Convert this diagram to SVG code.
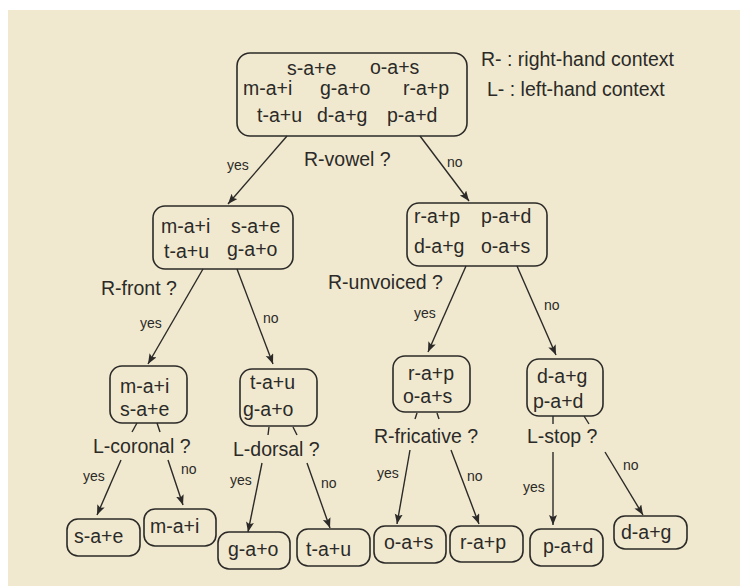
<svg xmlns="http://www.w3.org/2000/svg" width="740" height="586" viewBox="0 0 740 586">
<defs>
<style>
.bg{fill:#f0e9cf}
.box{fill:none;stroke:#2b2a28;stroke-width:1.6}
.t{font-family:"Liberation Sans",Arial,sans-serif;font-size:19.5px;fill:#2b2a28}
.s{font-family:"Liberation Sans",Arial,sans-serif;font-size:14px;fill:#2b2a28}
.c{stroke:#2b2a28;stroke-width:1.4;fill:none}
.a{marker-end:url(#arr)}
</style>
<marker id="arr" markerUnits="userSpaceOnUse" markerWidth="11" markerHeight="9" refX="10" refY="4" orient="auto">
<path d="M0,0 L10,4 L0,8 L2,4 z" fill="#2b2a28"/>
</marker>
</defs>
<rect class="bg" x="8" y="10" width="732" height="576"/>

<g id="legend">
<text class="t" x="481" y="66">R- : right-hand context</text>
<text class="t" x="487" y="96">L- : left-hand context</text>
</g>

<g id="connectors">
<line class="c a" x1="287" y1="136" x2="228" y2="204"/>
<line class="c a" x1="420" y1="136" x2="469" y2="201"/>
<line class="c a" x1="203" y1="269" x2="148" y2="364"/>
<line class="c a" x1="237" y1="269" x2="273" y2="364"/>
<line class="c a" x1="466" y1="266" x2="428" y2="352"/>
<line class="c a" x1="517" y1="266" x2="556" y2="355"/>
<line class="c" x1="137" y1="423" x2="132" y2="432"/>
<line class="c" x1="157" y1="423" x2="160" y2="432"/>
<line class="c a" x1="121" y1="460" x2="97" y2="515"/>
<line class="c a" x1="168" y1="460" x2="183" y2="505"/>
<line class="c" x1="269" y1="427" x2="268" y2="435"/>
<line class="c" x1="293" y1="427" x2="297" y2="435"/>
<line class="c a" x1="262" y1="463" x2="248" y2="532"/>
<line class="c a" x1="307" y1="463" x2="330" y2="528"/>
<line class="c" x1="417" y1="413" x2="415" y2="419"/>
<line class="c" x1="437" y1="413" x2="439" y2="419"/>
<line class="c a" x1="410" y1="450" x2="397" y2="524"/>
<line class="c a" x1="451" y1="450" x2="479" y2="524"/>
<line class="c" x1="553" y1="416" x2="553" y2="424"/>
<line class="c" x1="584" y1="416" x2="589" y2="424"/>
<line class="c a" x1="553" y1="452" x2="553" y2="525"/>
<line class="c a" x1="605" y1="452" x2="643" y2="515"/>
</g>

<g id="labels">
<text class="s" x="227" y="170">yes</text>
<text class="s" x="447" y="167">no</text>
<text class="t" x="304" y="166">R-vowel ?</text>
<text class="t" x="101" y="295">R-front ?</text>
<text class="s" x="140" y="328">yes</text>
<text class="s" x="263" y="323">no</text>
<text class="t" x="328" y="289">R-unvoiced ?</text>
<text class="s" x="414" y="318">yes</text>
<text class="s" x="544" y="310">no</text>
<text class="t" x="93" y="453">L-coronal ?</text>
<text class="s" x="83" y="481">yes</text>
<text class="s" x="181" y="474">no</text>
<text class="t" x="233" y="456">L-dorsal ?</text>
<text class="s" x="230" y="485">yes</text>
<text class="s" x="321" y="488">no</text>
<text class="t" x="374" y="443">R-fricative ?</text>
<text class="s" x="377" y="478">yes</text>
<text class="s" x="467" y="481">no</text>
<text class="t" x="527" y="443">L-stop ?</text>
<text class="s" x="523" y="492">yes</text>
<text class="s" x="623" y="470">no</text>
</g>

<g id="root">
<rect class="box" x="237" y="53" width="230" height="83" rx="13"/>
<text class="t" x="287" y="75">s-a+e</text>
<text class="t" x="370" y="74">o-a+s</text>
<text class="t" x="243" y="95">m-a+i</text>
<text class="t" x="320" y="95">g-a+o</text>
<text class="t" x="403" y="95">r-a+p</text>
<text class="t" x="257" y="122">t-a+u</text>
<text class="t" x="317" y="122">d-a+g</text>
<text class="t" x="387" y="122">p-a+d</text>
</g>

<g id="n-yes">
<rect class="box" x="153" y="206" width="140" height="63" rx="12"/>
<text class="t" x="161" y="233">m-a+i</text>
<text class="t" x="231" y="233">s-a+e</text>
<text class="t" x="164" y="258">t-a+u</text>
<text class="t" x="227" y="256">g-a+o</text>
</g>

<g id="n-no">
<rect class="box" x="407" y="203" width="140" height="63" rx="12"/>
<text class="t" x="414" y="223">r-a+p</text>
<text class="t" x="481" y="223">p-a+d</text>
<text class="t" x="414" y="253">d-a+g</text>
<text class="t" x="481" y="253">o-a+s</text>
</g>

<g id="n-front">
<rect class="box" x="110" y="366" width="77" height="57" rx="12"/>
<text class="t" x="120" y="393">m-a+i</text>
<text class="t" x="120" y="416">s-a+e</text>
</g>

<g id="n-back">
<rect class="box" x="240" y="369" width="77" height="57" rx="12"/>
<text class="t" x="250" y="389">t-a+u</text>
<text class="t" x="243" y="416">g-a+o</text>
</g>

<g id="n-unvoiced">
<rect class="box" x="393" y="356" width="77" height="56" rx="12"/>
<text class="t" x="408" y="380">r-a+p</text>
<text class="t" x="403" y="403">o-a+s</text>
</g>

<g id="n-voiced">
<rect class="box" x="527" y="359" width="76" height="57" rx="12"/>
<text class="t" x="537" y="383">d-a+g</text>
<text class="t" x="533" y="408">p-a+d</text>
</g>

<g id="leaf-sae">
<rect class="box" x="67" y="519" width="73" height="37" rx="11"/>
<text class="t" x="74" y="543">s-a+e</text>
</g>
<g id="leaf-mai">
<rect class="box" x="144" y="509" width="72" height="37" rx="11"/>
<text class="t" x="150" y="533">m-a+i</text>
</g>
<g id="leaf-gao">
<rect class="box" x="218" y="532" width="72" height="37" rx="11"/>
<text class="t" x="228" y="556">g-a+o</text>
</g>
<g id="leaf-tau">
<rect class="box" x="297" y="529" width="73" height="37" rx="11"/>
<text class="t" x="306" y="556">t-a+u</text>
</g>
<g id="leaf-oas">
<rect class="box" x="374" y="526" width="72" height="37" rx="11"/>
<text class="t" x="384" y="549">o-a+s</text>
</g>
<g id="leaf-rap">
<rect class="box" x="450" y="526" width="73" height="36" rx="11"/>
<text class="t" x="460" y="549">r-a+p</text>
</g>
<g id="leaf-pad">
<rect class="box" x="530" y="529" width="73" height="37" rx="11"/>
<text class="t" x="543" y="553">p-a+d</text>
</g>
<g id="leaf-dag">
<rect class="box" x="614" y="516" width="73" height="33" rx="11"/>
<text class="t" x="621" y="539">d-a+g</text>
</g>
</svg>
